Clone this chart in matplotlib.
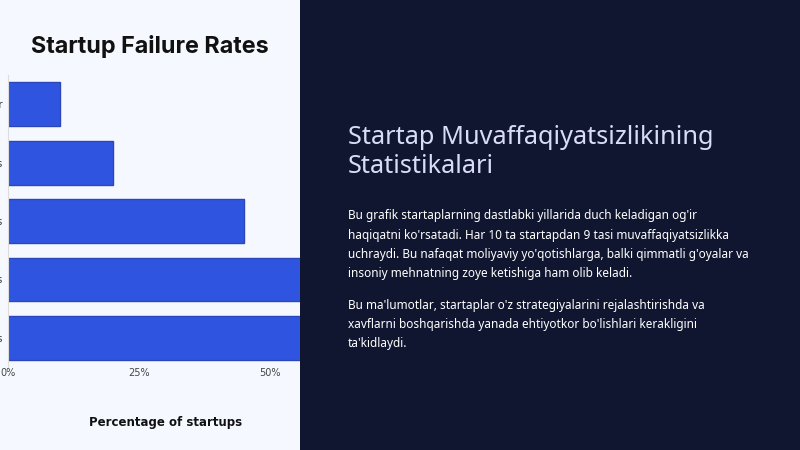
import matplotlib
matplotlib.use("Agg")
import matplotlib.pyplot as plt
from matplotlib.patches import Rectangle

categories = ["First year", "2 years", "5 years", "10 years", "15 years"]
failure_pct = [10, 20, 45, 70, 90]
ticks = [0, 25, 50]
tick_labels = ["0%", "25%", "50%"]

heading = "Startap Muvaffaqiyatsizlikining\nStatistikalari"
para1 = ["Bu grafik startaplarning dastlabki yillarida duch keladigan og'ir",
         "haqiqatni ko'rsatadi. Har 10 ta startapdan 9 tasi muvaffaqiyatsizlikka",
         "uchraydi. Bu nafaqat moliyaviy yo'qotishlarga, balki qimmatli g'oyalar va",
         "insoniy mehnatning zoye ketishiga ham olib keladi."]
para2 = ["Bu ma'lumotlar, startaplar o'z strategiyalarini rejalashtirishda va",
         "xavflarni boshqarishda yanada ehtiyotkor bo'lishlari kerakligini",
         "ta'kidlaydi."]

W, H = 800, 450
fig = plt.figure(figsize=(8, 4.5), dpi=100)
fig.patch.set_facecolor("#f5f9ff")
fig.patches.append(Rectangle((300 / W, 0), 500 / W, 1, transform=fig.transFigure,
                             facecolor="#10162f", zorder=0))

# chart axes: x from px 8 to 300, y from px 75 to 367
ax = fig.add_axes([8 / W, 1 - 367 / H, 292 / W, 292 / H])
ax.set_facecolor("#f5f9ff")
ypos = list(range(len(categories)))
ax.barh(ypos, failure_pct, height=0.75, color="#2f55e0", edgecolor="#2a46b8", linewidth=1)
ax.set_ylim(len(categories) - 0.5, -0.5)
ax.set_xlim(0, 292 / 5.24)
ax.set_yticks(ypos)
ax.set_yticklabels(categories, fontsize=7, color="#333333")
ax.set_xticks(ticks)
ax.set_xticklabels(tick_labels, fontsize=7, color="#444444")
ax.tick_params(axis="x", length=0, pad=1)
ax.tick_params(axis="y", length=0, pad=4)
for s in ["top", "right", "bottom"]:
    ax.spines[s].set_visible(False)
ax.spines["left"].set_color("#dddddd")
ax.set_xlabel("Percentage of startups", fontsize=8.5, fontweight="bold", color="#111111")
ax.xaxis.set_label_coords(158 / 292, -(416 - 367) / 292, transform=ax.transAxes)

fig.text(150 / W, 1 - 46 / H, "Startup Failure Rates", ha="center", va="center",
         fontsize=16.8, fontweight="bold", family="Inter", color="#111111")

fig.text(348 / W, 1 - 152 / H, heading, ha="left", va="center", fontsize=18.2,
         family="Noto Sans", fontweight="light", color="#d8dcf5", linespacing=1.25)
y = 216
for line in para1:
    fig.text(348 / W, 1 - y / H, line, ha="left", va="center", fontsize=8.5,
             family="Noto Sans", color="#ffffff")
    y += 19.3
y = 305
for line in para2:
    fig.text(348 / W, 1 - y / H, line, ha="left", va="center", fontsize=8.5,
             family="Noto Sans", color="#ffffff")
    y += 19.3

fig.savefig("out.png", dpi=100, facecolor=fig.get_facecolor())
